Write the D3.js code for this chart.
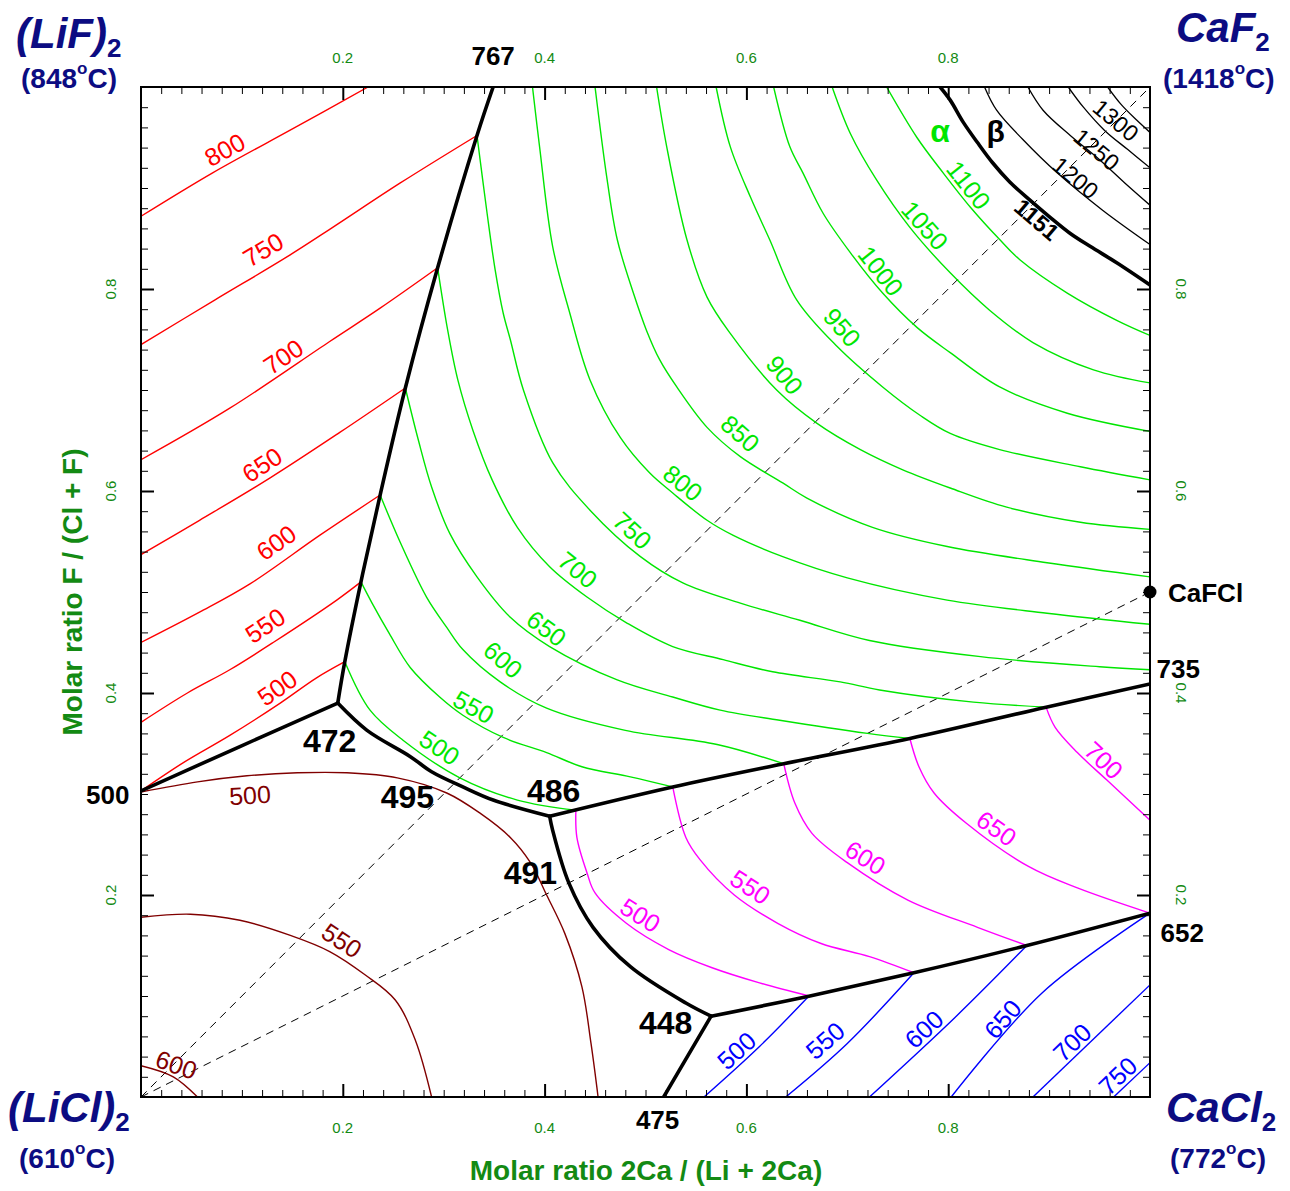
<!DOCTYPE html>
<html><head><meta charset="utf-8">
<script src="https://cdn.jsdelivr.net/npm/d3@7"></script>
<style>body{margin:0;background:#fff} svg{display:block} text{font-family:"Liberation Sans",Arial,sans-serif}</style>
</head><body><svg id="c" width="1290" height="1191"></svg>
<script>
// ---------- DATA (composition coordinates: x = 2Ca/(Li+2Ca), y = F/(Cl+F)) ----------
const majorTicks = [0.2, 0.4, 0.6, 0.8];
const tickLabels = ["0.2", "0.4", "0.6", "0.8"];
const minorTicks = d3.range(1, 50).filter(i => i % 10).map(i => i / 50);

// LiF primary field isotherms (red)
const lifIsotherms = [
  {t: 800, pts: [[0,0.872],[0.071,0.915],[0.151,0.959],[0.225,1.0]]},
  {t: 750, pts: [[0,0.745],[0.073,0.789],[0.145,0.832],[0.190,0.861],[0.257,0.905],[0.333,0.952]]},
  {t: 700, pts: [[0,0.631],[0.088,0.682],[0.187,0.748],[0.237,0.781],[0.294,0.821]]},
  {t: 650, pts: [[0,0.537],[0.058,0.571],[0.128,0.613],[0.197,0.658],[0.262,0.702]]},
  {t: 600, pts: [[0,0.450],[0.058,0.480],[0.108,0.508],[0.177,0.556],[0.237,0.596]]},
  {t: 550, pts: [[0,0.371],[0.046,0.400],[0.088,0.423],[0.131,0.450],[0.194,0.492],[0.218,0.510]]},
  {t: 500, pts: [[0,0.303],[0.042,0.331],[0.088,0.358],[0.138,0.390],[0.174,0.415],[0.202,0.431]]}
];

// alpha-CaF2 primary field isotherms (green)
const caf2AlphaIsotherms = [
  {t: 500, pts: [[0.202,0.431],[0.227,0.383],[0.260,0.353],[0.316,0.316],[0.373,0.294],[0.431,0.284]]},
  {t: 550, pts: [[0.218,0.510],[0.229,0.489],[0.246,0.459],[0.267,0.425],[0.296,0.396],[0.319,0.378],[0.359,0.356],[0.402,0.341],[0.437,0.327],[0.485,0.317],[0.527,0.307]]},
  {t: 600, pts: [[0.237,0.596],[0.257,0.549],[0.283,0.495],[0.303,0.465],[0.319,0.443],[0.356,0.411],[0.402,0.385],[0.480,0.363],[0.571,0.349],[0.637,0.330]]},
  {t: 650, pts: [[0.262,0.702],[0.275,0.650],[0.288,0.604],[0.306,0.558],[0.333,0.515],[0.366,0.475],[0.405,0.446],[0.472,0.413],[0.527,0.396],[0.574,0.383],[0.633,0.373],[0.720,0.360],[0.762,0.355]]},
  {t: 700, pts: [[0.294,0.821],[0.304,0.759],[0.314,0.710],[0.329,0.660],[0.348,0.611],[0.373,0.564],[0.405,0.525],[0.442,0.495],[0.482,0.469],[0.527,0.446],[0.577,0.433],[0.626,0.421],[0.693,0.411],[0.732,0.403],[0.825,0.391],[0.897,0.386]]},
  {t: 750, pts: [[0.333,0.952],[0.343,0.875],[0.351,0.819],[0.359,0.776],[0.366,0.750],[0.379,0.700],[0.408,0.628],[0.445,0.581],[0.495,0.535],[0.537,0.509],[0.594,0.489],[0.653,0.472],[0.722,0.452],[0.832,0.436],[0.950,0.426],[1.0,0.423]]},
  {t: 800, pts: [[0.388,1.0],[0.395,0.941],[0.408,0.842],[0.425,0.776],[0.445,0.710],[0.475,0.653],[0.504,0.618],[0.527,0.598],[0.561,0.571],[0.587,0.556],[0.636,0.535],[0.700,0.514],[0.799,0.492],[0.898,0.479],[1.0,0.468]]},
  {t: 850, pts: [[0.450,1.0],[0.462,0.908],[0.472,0.849],[0.488,0.796],[0.501,0.759],[0.514,0.730],[0.531,0.703],[0.561,0.663],[0.594,0.634],[0.636,0.608],[0.660,0.593],[0.725,0.564],[0.799,0.545],[0.898,0.529],[1.0,0.515]]},
  {t: 900, pts: [[0.511,1.0],[0.521,0.941],[0.541,0.849],[0.561,0.792],[0.584,0.756],[0.630,0.700],[0.670,0.667],[0.713,0.641],[0.755,0.621],[0.802,0.603],[0.858,0.584],[0.931,0.569],[1.0,0.562]]},
  {t: 950, pts: [[0.570,1.0],[0.584,0.941],[0.604,0.891],[0.623,0.849],[0.650,0.789],[0.690,0.743],[0.735,0.703],[0.772,0.675],[0.802,0.657],[0.851,0.641],[0.931,0.624],[1.0,0.611]]},
  {t: 1000, pts: [[0.627,1.0],[0.643,0.941],[0.656,0.915],[0.676,0.875],[0.703,0.836],[0.735,0.796],[0.769,0.762],[0.802,0.737],[0.851,0.703],[0.918,0.677],[1.0,0.659]]},
  {t: 1050, pts: [[0.685,1.0],[0.703,0.954],[0.729,0.908],[0.762,0.861],[0.802,0.816],[0.841,0.779],[0.884,0.747],[0.944,0.720],[1.0,0.707]]},
  {t: 1100, pts: [[0.739,1.0],[0.769,0.950],[0.795,0.915],[0.822,0.881],[0.851,0.849],[0.871,0.829],[0.918,0.796],[0.967,0.769],[1.0,0.754]]}
];

// beta-CaF2 primary field isotherms (black)
const caf2BetaIsotherms = [
  {t: 1200, pts: [[0.836,1.0],[0.848,0.977],[0.874,0.948],[0.908,0.915],[0.953,0.878],[1.0,0.844]]},
  {t: 1250, pts: [[0.879,1.0],[0.894,0.977],[0.921,0.952],[0.950,0.928],[0.975,0.905],[1.0,0.883]]},
  {t: 1300, pts: [[0.919,1.0],[0.934,0.980],[0.955,0.957],[0.978,0.938],[1.0,0.920]]},
  {t: 1350, pts: [[0.958,1.0],[0.972,0.982],[0.987,0.967],[1.0,0.955]]}
];

// CaFCl primary field isotherms (magenta)
const cafclIsotherms = [
  {t: 500, pts: [[0.431,0.284],[0.432,0.257],[0.442,0.222],[0.450,0.202],[0.481,0.172],[0.523,0.146],[0.566,0.128],[0.613,0.113],[0.662,0.100]]},
  {t: 550, pts: [[0.527,0.307],[0.540,0.257],[0.554,0.235],[0.588,0.200],[0.631,0.172],[0.674,0.152],[0.722,0.139],[0.766,0.123]]},
  {t: 600, pts: [[0.637,0.330],[0.648,0.291],[0.665,0.261],[0.700,0.232],[0.760,0.195],[0.829,0.168],[0.878,0.150]]},
  {t: 650, pts: [[0.762,0.355],[0.771,0.327],[0.786,0.301],[0.818,0.271],[0.880,0.228],[0.928,0.207],[1.0,0.182]]},
  {t: 700, pts: [[0.897,0.386],[0.906,0.366],[0.928,0.341],[0.957,0.314],[1.0,0.274]]}
];

// CaCl2 primary field isotherms (blue)
const cacl2Isotherms = [
  {t: 500, pts: [[0.662,0.100],[0.613,0.050],[0.558,0]]},
  {t: 550, pts: [[0.766,0.123],[0.700,0.053],[0.639,0]]},
  {t: 600, pts: [[0.878,0.150],[0.807,0.079],[0.722,0]]},
  {t: 650, pts: [[1.0,0.182],[0.893,0.103],[0.803,0]]},
  {t: 700, pts: [[1.0,0.111],[0.884,0]]},
  {t: 750, pts: [[1.0,0.034],[0.964,0]]}
];

// LiCl primary field isotherms (dark red)
const liclIsotherms = [
  {t: 500, pts: [[0,0.302],[0.056,0.312],[0.105,0.318],[0.155,0.321],[0.204,0.321],[0.254,0.316],[0.303,0.301],[0.336,0.281],[0.366,0.257],[0.386,0.232],[0.402,0.200],[0.420,0.162],[0.437,0.109],[0.446,0.053],[0.453,0]]},
  {t: 550, pts: [[0,0.178],[0.049,0.181],[0.098,0.175],[0.148,0.160],[0.187,0.144],[0.222,0.121],[0.252,0.096],[0.272,0.056],[0.288,0]]},
  {t: 600, pts: [[0,0.031],[0.032,0.020],[0.056,0]]}
];

// univariant boundary lines (thick black)
const boundaries = [
  [[0.349,1.0],[0.333,0.952],[0.294,0.821],[0.262,0.702],[0.237,0.596],[0.218,0.510],[0.202,0.431],[0.195,0.390]],
  [[0,0.303],[0.098,0.347],[0.195,0.390]],
  [[0.195,0.390],[0.224,0.363],[0.267,0.337],[0.288,0.322],[0.319,0.307],[0.349,0.294],[0.405,0.278]],
  [[0.405,0.278],[0.527,0.307],[0.637,0.330],[0.762,0.355],[0.897,0.386],[1.0,0.409]],
  [[0.405,0.278],[0.408,0.264],[0.424,0.212],[0.448,0.168],[0.485,0.129],[0.540,0.093],[0.565,0.080]],
  [[0.565,0.080],[0.518,0]],
  [[0.565,0.080],[0.663,0.100],[0.766,0.123],[0.878,0.150],[1.0,0.182]]
];
// alpha/beta CaF2 transition line, 1151 °C
const transition1151 = [[0.792,1.0],[0.802,0.987],[0.815,0.965],[0.829,0.945],[0.844,0.925],[0.861,0.906],[0.881,0.888],[0.901,0.871],[0.921,0.855],[0.941,0.842],[0.967,0.826],[1.0,0.804]];

// dashed composition joins
const joins = [[[0,0],[1,1]], [[0,0],[1,0.5]]];
const cafclPoint = [1.0, 0.5];

// isotherm label positions (composition coords)
const lifLabels = [[800,0.083,0.938],[750,0.121,0.839],[700,0.141,0.733],[650,0.120,0.626],[600,0.134,0.549],[550,0.123,0.467],[500,0.135,0.405]];
const alphaLabels = [[500,0.296,0.346],[550,0.328,0.383],[600,0.359,0.433],[650,0.402,0.464],[700,0.433,0.522],[750,0.487,0.561],[800,0.537,0.608],[850,0.594,0.657],[900,0.638,0.715],[950,0.695,0.762],[1000,0.732,0.817],[1050,0.777,0.863],[1100,0.814,0.898]];
const betaLabels = [[1200,0.926,0.910],[1250,0.947,0.938],[1300,0.966,0.967]];
const cafclLabels = [[500,0.495,0.180],[550,0.604,0.208],[600,0.718,0.237],[650,0.848,0.266],[700,0.950,0.329]];
const cacl2Labels = [[500,0.591,0.045],[550,0.678,0.056],[600,0.777,0.066],[650,0.861,0.071],[700,0.923,0.054],[750,0.968,0.021]];
const liclLabels = [[500,0.108,0.299],[550,0.199,0.155],[600,0.034,0.029]];

// invariant / limiting temperatures
const invariantBig = [["472",0.187,0.352],["495",0.264,0.297],["486",0.409,0.303],["491",0.386,0.222],["448",0.520,0.073]];
const invariantSmall = [["767",0.349,1.031],["475",0.512,-0.023],["500",-0.033,0.299],["735",1.028,0.424],["652",1.032,0.162]];
const label1151 = ["1151", 0.900, 0.883];

// ---------- DRAWING ----------
const svg = d3.select("#c");
const L = 141, R = 1150, T = 87, B = 1097;
const x = d3.scaleLinear().domain([0, 1]).range([L, R]);
const y = d3.scaleLinear().domain([0, 1]).range([B, T]);

const C = {red: "#ff0000", green: "#00e600", mag: "#ff00ff", blue: "#0000ff", brown: "#800000",
           navy: "#0c0c82", axis: "#138a13"};

svg.append("defs").append("clipPath").attr("id", "pc")
  .append("rect").attr("x", L).attr("y", T).attr("width", R - L).attr("height", B - T);

const line = d3.line().x(d => x(d[0])).y(d => y(d[1])).curve(d3.curveCatmullRom.alpha(0.5));
const lineLin = d3.line().x(d => x(d[0])).y(d => y(d[1]));

const plot = svg.append("g").attr("clip-path", "url(#pc)");

// dashed joins
plot.selectAll(".join").data(joins).join("path")
  .attr("d", lineLin).attr("fill", "none").attr("stroke", "#000")
  .attr("stroke-width", 1).attr("stroke-dasharray", "8,6");

function drawSet(set, color, w) {
  plot.append("g").selectAll("path").data(set).join("path")
    .attr("d", d => line(d.pts)).attr("fill", "none")
    .attr("stroke", color).attr("stroke-width", w).attr("stroke-linejoin", "round");
}
drawSet(lifIsotherms, C.red, 1.4);
drawSet(caf2AlphaIsotherms, C.green, 1.4);
drawSet(caf2BetaIsotherms, "#000", 1.3);
drawSet(cafclIsotherms, C.mag, 1.4);
drawSet(cacl2Isotherms, C.blue, 1.4);
drawSet(liclIsotherms, C.brown, 1.4);

plot.append("g").selectAll("path").data(boundaries.concat([transition1151])).join("path")
  .attr("d", d => line(d)).attr("fill", "none").attr("stroke", "#000")
  .attr("stroke-width", 3.6).attr("stroke-linejoin", "round").attr("stroke-linecap", "round");

// ticks
function ticks(axisGen, tr) {
  const g = svg.append("g").attr("transform", tr).call(axisGen);
  g.select(".domain").remove();
  return g;
}
const axes = [
  [d3.axisBottom, `translate(0,${B})`, x],
  [d3.axisTop, `translate(0,${T})`, x],
  [d3.axisLeft, `translate(${L},0)`, y],
  [d3.axisRight, `translate(${R},0)`, y]
];
axes.forEach(([gen, tr, sc]) => {
  ticks(gen(sc).tickValues(minorTicks).tickSize(-7).tickSizeOuter(0).tickFormat(""), tr)
    .selectAll("line").attr("stroke", "#000").attr("stroke-width", 1);
  ticks(gen(sc).tickValues(majorTicks).tickSize(-13).tickSizeOuter(0).tickFormat(""), tr)
    .selectAll("line").attr("stroke", "#000").attr("stroke-width", 2);
});
svg.append("rect").attr("x", L).attr("y", T).attr("width", R - L).attr("height", B - T)
  .attr("fill", "none").attr("stroke", "#000").attr("stroke-width", 2);

// tick labels
const tl = svg.append("g").attr("fill", C.axis).attr("font-size", 15)
  .attr("text-anchor", "middle").attr("dominant-baseline", "central");
majorTicks.forEach((v, i) => {
  tl.append("text").attr("x", x(v)).attr("y", 57).text(tickLabels[i]);
  tl.append("text").attr("x", x(v)).attr("y", 1127).text(tickLabels[i]);
  tl.append("text").attr("transform", `translate(110,${y(v)}) rotate(-90)`).text(tickLabels[i]);
  tl.append("text").attr("transform", `translate(1181,${y(v)}) rotate(90)`).text(tickLabels[i]);
});

// axis titles
svg.append("text").attr("x", 646).attr("y", 1180).attr("text-anchor", "middle")
  .attr("font-size", 28).attr("font-weight", "bold").attr("fill", C.axis)
  .text("Molar ratio 2Ca / (Li + 2Ca)");
svg.append("text").attr("transform", `translate(82,${592}) rotate(-90)`).attr("text-anchor", "middle")
  .attr("font-size", 28).attr("font-weight", "bold").attr("fill", C.axis)
  .text("Molar ratio F / (Cl + F)");

// contour labels: rotated along, and set beside, the nearest segment of their curve
function placeOn(pts, px, py, minOff, forceSide) {
  let best = Infinity, res = null;
  for (let i = 0; i < pts.length - 1; i++) {
    const ax = x(pts[i][0]), ay = y(pts[i][1]), bx = x(pts[i+1][0]), by = y(pts[i+1][1]);
    const dx = bx - ax, dy = by - ay, L2 = dx*dx + dy*dy;
    let t = ((px - ax)*dx + (py - ay)*dy) / L2; t = Math.max(0, Math.min(1, t));
    const qx = ax + t*dx, qy = ay + t*dy, d = (qx-px)**2 + (qy-py)**2;
    if (d < best) { best = d; res = {qx, qy, dx, dy}; }
  }
  let ang = Math.atan2(res.dy, res.dx) * 180 / Math.PI;
  if (ang > 90) ang -= 180;
  if (ang < -90) ang += 180;
  const len = Math.hypot(res.dx, res.dy);
  let nx = -res.dy / len, ny = res.dx / len;
  let side = (px - res.qx) * nx + (py - res.qy) * ny;
  if (forceSide) { if (ny < 0) { nx = -nx; ny = -ny; } side = 0; }
  else if (side < 0) { nx = -nx; ny = -ny; }
  const off = Math.max(Math.abs(side), minOff);
  return {x: res.qx + nx * off, y: res.qy + ny * off, ang};
}
function labelSet(labels, set, color, opts = {}) {
  const g = svg.append("g").attr("fill", color).attr("font-size", opts.size || 25)
    .attr("font-weight", opts.weight || "normal")
    .attr("text-anchor", "middle").attr("dominant-baseline", "central");
  labels.forEach(([t, lx, ly]) => {
    const curve = set.length && set[0].pts ? set.find(s => s.t === t).pts : set;
    const p = placeOn(curve, x(lx), y(ly), opts.off === undefined ? 12.5 : opts.off, opts.below);
    g.append("text").attr("transform", `translate(${p.x},${p.y}) rotate(${p.ang})`).text(t);
  });
}
labelSet(lifLabels, lifIsotherms, C.red);
labelSet(alphaLabels, caf2AlphaIsotherms, C.green);
labelSet(betaLabels, caf2BetaIsotherms, "#000", {size: 23, off: 0});
labelSet(cafclLabels, cafclIsotherms, C.mag);
labelSet(cacl2Labels, cacl2Isotherms, C.blue);
labelSet(liclLabels, liclIsotherms, C.brown);
labelSet([label1151], transition1151, "#000", {weight: "bold", size: 23, off: 10.5, below: true});

// alpha / beta
svg.append("text").attr("x", x(0.792)).attr("y", y(0.956)).attr("text-anchor", "middle")
  .attr("dominant-baseline", "central").attr("font-family", "Liberation Serif, serif")
  .attr("font-size", 32).attr("font-weight", "bold").attr("fill", C.green).text("α");
svg.append("text").attr("x", x(0.847)).attr("y", y(0.956)).attr("text-anchor", "middle")
  .attr("dominant-baseline", "central").attr("font-family", "Liberation Serif, serif")
  .attr("font-size", 30).attr("font-weight", "bold").attr("fill", "#000").text("β");

// invariant labels
const inv = svg.append("g").attr("font-weight", "bold").attr("fill", "#000")
  .attr("text-anchor", "middle").attr("dominant-baseline", "central");
invariantBig.forEach(([t, a, b]) => inv.append("text").attr("x", x(a)).attr("y", y(b)).attr("font-size", 32).text(t));
invariantSmall.forEach(([t, a, b]) => inv.append("text").attr("x", x(a)).attr("y", y(b)).attr("font-size", 26).text(t));

// CaFCl point
svg.append("circle").attr("cx", x(cafclPoint[0])).attr("cy", y(cafclPoint[1])).attr("r", 6.5).attr("fill", "#000");
svg.append("text").attr("x", x(cafclPoint[0]) + 18).attr("y", y(cafclPoint[1]) + 1)
  .attr("dominant-baseline", "central").attr("font-size", 26).attr("font-weight", "bold").text("CaFCl");

// corner components
function comp(xs, yb, name, xt, yt, temp) {
  const t1 = svg.append("text").attr("x", xs).attr("y", yb)
    .attr("fill", C.navy).attr("font-weight", "bold").attr("font-size", 42).attr("font-style", "italic");
  t1.append("tspan").text(name);
  t1.append("tspan").attr("font-size", 26).attr("font-style", "normal").attr("dy", 9).text("2");
  const t2 = svg.append("text").attr("x", xt).attr("y", yt)
    .attr("fill", C.navy).attr("font-weight", "bold").attr("font-size", 28);
  t2.append("tspan").text("(" + temp);
  t2.append("tspan").attr("font-size", 17).attr("dy", -14).text("o");
  t2.append("tspan").attr("dy", 14).text("C)");
}
comp(16, 48, "(LiF)", 21, 88, "848");
comp(1176, 42, "CaF", 1163, 88, "1418");
comp(8, 1122, "(LiCl)", 19, 1168, "610");
comp(1166, 1122, "CaCl", 1170, 1168, "772");
</script></body></html>
